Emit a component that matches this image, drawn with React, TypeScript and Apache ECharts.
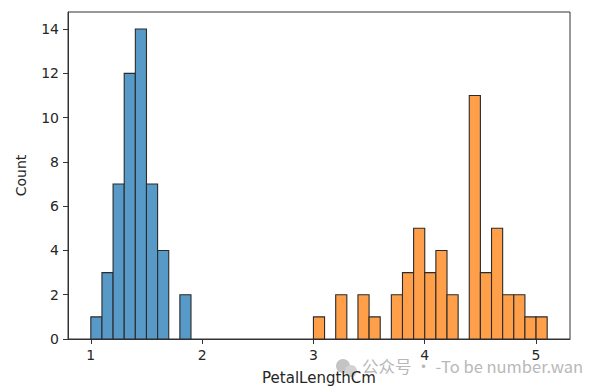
import React, { useEffect, useRef } from "react";
import * as echarts from "echarts";

const binWidth = 0.1;
const setosaBinStarts = [1.0, 1.1, 1.2, 1.3, 1.4, 1.5, 1.6, 1.8];
const setosaCounts = [1, 3, 7, 12, 14, 7, 4, 2];
const versicolorBinStarts = [3.0, 3.2, 3.4, 3.5, 3.7, 3.8, 3.9, 4.0, 4.1, 4.2, 4.4, 4.5, 4.6, 4.7, 4.8, 4.9, 5.0];
const versicolorCounts = [1, 2, 2, 1, 2, 3, 5, 3, 4, 2, 11, 3, 5, 2, 2, 1, 1];
const xTicks = [1, 2, 3, 4, 5];
const yTicks = [0, 2, 4, 6, 8, 10, 12, 14];

const FONT = "DejaVu Sans";

function histSeries(name: string, starts: number[], counts: number[], color: string) {
  return {
    type: "custom",
    name,
    data: starts.map((s, i) => [s, s + binWidth, counts[i]]),
    renderItem: (params: any, api: any) => {
      const p0 = api.coord([api.value(0), 0]);
      const p1 = api.coord([api.value(1), api.value(2)]);
      return {
        type: "rect",
        shape: { x: p0[0], y: p1[1], width: p1[0] - p0[0], height: p0[1] - p1[1] },
        style: { fill: color, stroke: "#2b2b2b", lineWidth: 1.1 },
      };
    },
    encode: { x: [0, 1], y: 2 },
  };
}

export default function App() {
  const ref = useRef<HTMLDivElement>(null);
  useEffect(() => {
    const chart = echarts.init(ref.current!, null, { renderer: "svg" });
    const axisLine = { show: true, lineStyle: { color: "#333", width: 1 } };
    chart.setOption({
      animation: false,
      backgroundColor: "#fff",
      grid: {
        left: 68, right: 34, top: 12, bottom: 53,
        show: true, borderColor: "#333", borderWidth: 1, backgroundColor: "transparent",
      },
      xAxis: {
        type: "value",
        min: 0.795,
        max: 5.305,
        name: "PetalLengthCm",
        nameLocation: "middle",
        nameGap: 31,
        nameTextStyle: { fontFamily: FONT, fontSize: 15, color: "#262626" },
        axisLine,
        splitLine: { show: false },
        axisTick: { show: true, length: 5, lineStyle: { color: "#333" }, customValues: xTicks },
        axisLabel: { fontFamily: FONT, fontSize: 14, color: "#262626", margin: 9, customValues: xTicks },
      },
      yAxis: {
        type: "value",
        min: 0,
        max: 14.77,
        name: "Count",
        nameLocation: "middle",
        nameGap: 40,
        nameTextStyle: { fontFamily: FONT, fontSize: 14, color: "#262626" },
        axisLine,
        splitLine: { show: false },
        axisTick: { show: true, length: 5, lineStyle: { color: "#333" }, customValues: yTicks },
        axisLabel: { fontFamily: FONT, fontSize: 14, color: "#262626", margin: 9, customValues: yTicks },
      },
      graphic: [
        { type: "circle", shape: { cx: 343, cy: 366, r: 7 }, style: { fill: "#c4c4c4" } },
        { type: "circle", shape: { cx: 351, cy: 371, r: 6 }, style: { fill: "#d2d2d2" } },
        {
          type: "text",
          left: 362,
          top: 358,
          style: { text: "公众号 · -To be number.wan", fill: "#b8b8b8", font: "16.5px 'Noto Sans CJK SC', 'Noto Sans'" },
        },
      ],
      series: [
        histSeries("Iris-setosa", setosaBinStarts, setosaCounts, "#5799c7"),
        histSeries("Iris-versicolor", versicolorBinStarts, versicolorCounts, "#ff9f4a"),
      ],
    });
    return () => chart.dispose();
  }, []);
  return <div ref={ref} style={{ width: 604, height: 392, position: "absolute", left: 0, top: 0 }} />;
}
